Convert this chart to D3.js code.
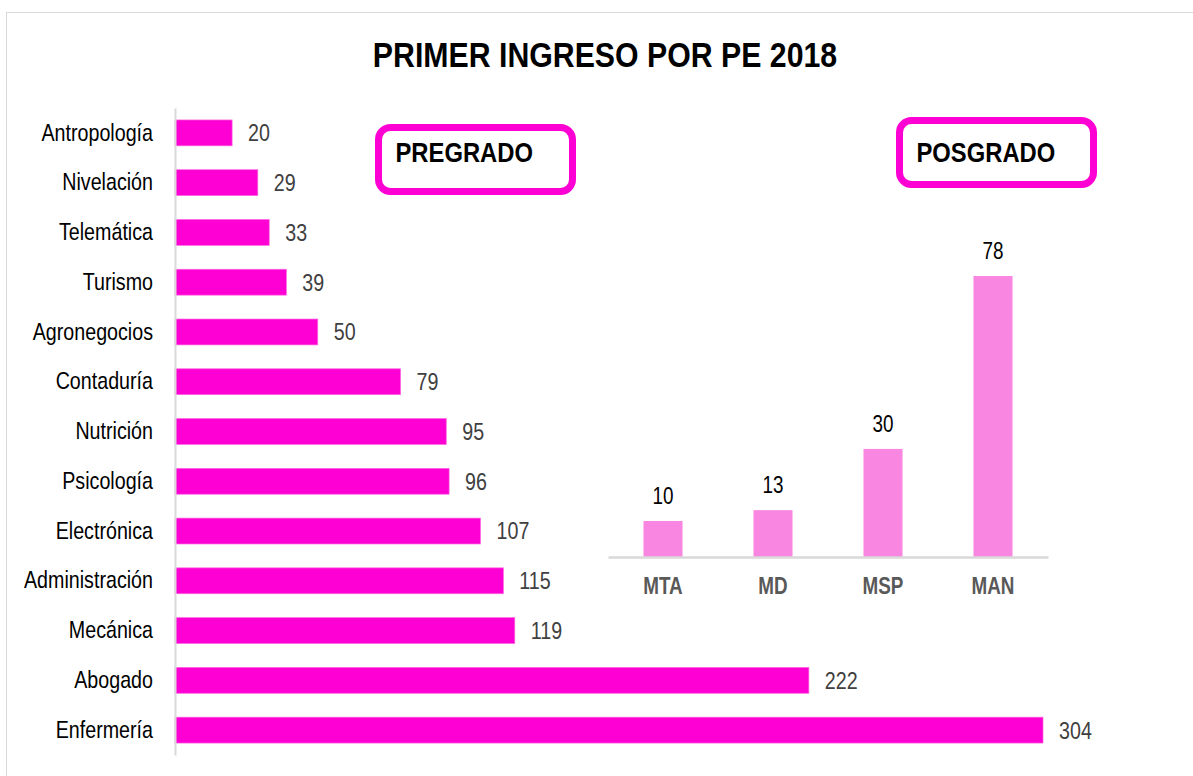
<!DOCTYPE html>
<html><head><meta charset="utf-8">
<script src="https://cdn.jsdelivr.net/npm/d3@7"></script>
<style>
html,body{margin:0;padding:0;background:#fff;}
text{font-family:"Liberation Sans",Arial,sans-serif;}
</style></head><body>
<svg id="c" width="1193" height="776"></svg>
<script>
const titleText = "PRIMER INGRESO POR PE 2018";
const pregradoCats = ["Antropología","Nivelación","Telemática","Turismo","Agronegocios","Contaduría","Nutrición","Psicología","Electrónica","Administración","Mecánica","Abogado","Enfermería"];
const pregradoVals = [20,29,33,39,50,79,95,96,107,115,119,222,304];
const posgradoCats = ["MTA","MD","MSP","MAN"];
const posgradoVals = [10,13,30,78];
const boxLabels = ["PREGRADO","POSGRADO"];

const K = 0.82; // narrow font emulation
const FF = '"Liberation Sans",Arial,sans-serif';
const svg = d3.select("#c");
svg.append("rect").attr("x",6.5).attr("y",12.5).attr("width",1300).attr("height",900)
  .attr("fill","#fff").attr("stroke","#d9d9d9").attr("stroke-width",1);

svg.append("text").attr("transform","translate(605,67) scale(0.865,1)").attr("text-anchor","middle")
  .attr("font-size",35).attr("font-weight","bold").attr("fill","#000").text(titleText);

// Horizontal bars
const x = d3.scaleLinear().domain([0,304]).range([175,1043]);
const y = d3.scaleBand().domain(pregradoCats).range([108,755]).paddingInner(0.48).paddingOuter(0.24);
const data = pregradoCats.map((c,i)=>({c,v:pregradoVals[i]}));
svg.append("g").selectAll("rect").data(data).join("rect")
  .attr("x",x(0)).attr("y",d=>y(d.c)).attr("width",d=>x(d.v)-x(0)).attr("height",y.bandwidth())
  .attr("fill","#FF00D4").attr("stroke","#FF66E0").attr("stroke-width",0.7);
const yAxis = svg.append("g").attr("transform",`translate(${x(0)},0)`)
  .call(d3.axisLeft(y).tickSize(0).tickPadding(22));
yAxis.select(".domain").attr("stroke","#d9d9d9").attr("stroke-width",2);
yAxis.selectAll("text").attr("font-size",24).attr("fill","#000")
  .attr("x",-22/K).attr("transform",`scale(${K},1)`).style("font-family",FF);
svg.append("g").selectAll("text").data(data).join("text")
  .attr("transform",d=>`translate(${x(d.v)+16},${y(d.c)+y.bandwidth()/2}) scale(${K},1)`).attr("dy","0.35em")
  .attr("font-size",24).attr("fill","#404040").text(d=>d.v);

// Vertical bars
const pdata = posgradoCats.map((c,i)=>({c,v:posgradoVals[i]}));
const xb = d3.scaleBand().domain(posgradoCats).range([608,1048]).paddingInner(0.645).paddingOuter(0.3225);
const yv = d3.scaleLinear().domain([0,78]).range([557,276]);
svg.append("g").selectAll("rect").data(pdata).join("rect")
  .attr("x",d=>xb(d.c)).attr("y",d=>yv(d.v)).attr("width",xb.bandwidth()).attr("height",d=>yv(0)-yv(d.v))
  .attr("fill","#F986E1");
const xAxis = svg.append("g").attr("transform",`translate(0,${yv(0)})`)
  .call(d3.axisBottom(xb).tickSize(0).tickPadding(21).tickSizeOuter(0));
xAxis.select(".domain").attr("stroke","#d9d9d9").attr("stroke-width",2.5);
xAxis.selectAll("text").attr("font-size",23).attr("font-weight","bold").attr("fill","#595959")
  .attr("transform",`scale(${K},1)`).style("font-family",FF);
svg.append("g").selectAll("text").data(pdata).join("text")
  .attr("transform",d=>`translate(${xb(d.c)+xb.bandwidth()/2},${yv(d.v)-17}) scale(${K},1)`).attr("text-anchor","middle")
  .attr("font-size",23).attr("fill","#000").text(d=>d.v);

// Boxes
const boxes = [{t:boxLabels[0],x:378.5,y:127.5,w:194,h:64},{t:boxLabels[1],x:899.5,y:120.5,w:194,h:64}];
const bg = svg.append("g").selectAll("g").data(boxes).join("g");
bg.append("rect").attr("x",d=>d.x).attr("y",d=>d.y).attr("width",d=>d.w).attr("height",d=>d.h)
  .attr("rx",12).attr("fill","#fff").attr("stroke","#FF00D4").attr("stroke-width",7);
bg.append("text").attr("transform",d=>`translate(${d.x+17},162) scale(0.85,1)`).attr("font-size",28).attr("font-weight","bold")
  .attr("fill","#000").text(d=>d.t);
</script></body></html>
